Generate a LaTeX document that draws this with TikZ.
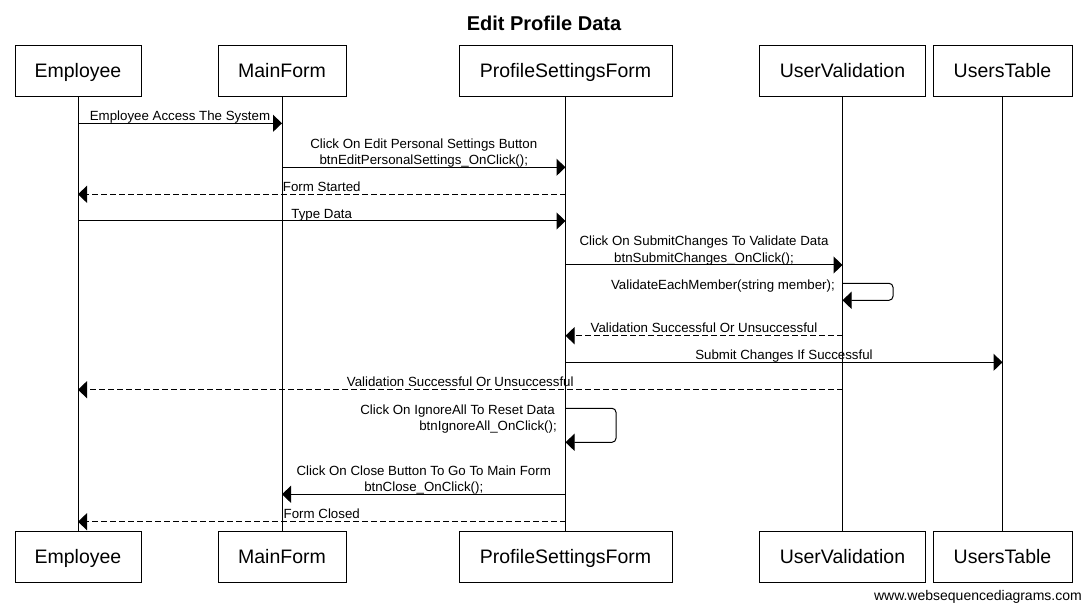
\documentclass[tikz,border=0pt]{standalone}
\usepackage{fontspec}
\setmainfont{Liberation Sans}
\usetikzlibrary{arrows.meta,calc}
\begin{document}
\begin{tikzpicture}[x=1pt,y=-1pt,
  actor/.style={draw,line width=1pt,minimum height=51pt,inner sep=0pt,text height=14pt,text depth=1pt,font=\fontsize{19.5}{22}\selectfont},
  life/.style={line width=1pt},
  msg/.style={line width=1pt,-{Triangle[length=9pt,width=17pt]}},
  ret/.style={msg,dash pattern=on 6pt off 3pt},
  lbl/.style={font=\fontsize{13.3}{15}\selectfont,inner sep=0pt,anchor=base},
  up1/.style={lbl,yshift=2.8pt},
  up2/.style={lbl,yshift=19.2pt}]
\useasboundingbox (0,0) rectangle (1085,604);
% title
\node[anchor=base,inner sep=0pt,font=\bfseries\fontsize{20}{24}\selectfont] (title) at (544,31) {Edit Profile Data};
% top actors
\node[actor,minimum width=126pt] (empT) at (78,71.5) {Employee};
\node[actor,minimum width=128pt] (mainT) at (282,71.5) {MainForm};
\node[actor,minimum width=213pt] (psfT) at (565.5,71.5) {ProfileSettingsForm};
\node[actor,minimum width=166pt] (uvT) at (842.5,71.5) {UserValidation};
\node[actor,minimum width=139pt] (utT) at (1002.5,71.5) {UsersTable};
% bottom actors
\node[actor,minimum width=126pt] (empB) at (78,556.5) {Employee};
\node[actor,minimum width=128pt] (mainB) at (282,556.5) {MainForm};
\node[actor,minimum width=213pt] (psfB) at (565.5,556.5) {ProfileSettingsForm};
\node[actor,minimum width=166pt] (uvB) at (842.5,556.5) {UserValidation};
\node[actor,minimum width=139pt] (utB) at (1002.5,556.5) {UsersTable};
% lifelines
\draw[life] (empT) -- (empB);
\draw[life] (mainT) -- (mainB);
\draw[life] (psfT) -- (psfB);
\draw[life] (uvT) -- (uvB);
\draw[life] (utT) -- (utB);
% 1
\draw[msg] (empT |- 0,123.3) -- node[up1]{Employee Access The System} (mainT |- 0,123.3);
% 2
\draw[msg] (mainT |- 0,167.3) -- node[up1]{btnEditPersonalSettings\_OnClick();} node[up2]{Click On Edit Personal Settings Button} (psfT |- 0,167.3);
% 3
\draw[ret] (psfT |- 0,194.3) -- node[up1]{Form Started} (empT |- 0,194.3);
% 4
\draw[msg] (empT |- 0,221) -- node[up1]{Type Data} (psfT |- 0,221);
% 5
\draw[msg] (psfT |- 0,265) -- node[up1]{btnSubmitChanges\_OnClick();} node[up2]{Click On SubmitChanges To Validate Data} (uvT |- 0,265);
% 6 self
\draw[msg,rounded corners=4pt] (uvT |- 0,283.3) -- ++(50.5,0) -- ++(0,17) -- (uvT |- 0,300.3);
\node[lbl,anchor=base east] (selfA) at (835,289.5) {ValidateEachMember(string member);};
% 7
\draw[ret] (uvT |- 0,335.7) -- node[up1]{Validation Successful Or Unsuccessful} (psfT |- 0,335.7);
% 8
\draw[msg] (psfT |- 0,362.3) -- node[up1]{Submit Changes If Successful} (utT |- 0,362.3);
% 9
\draw[ret] (uvT |- 0,389.7) -- node[up1]{Validation Successful Or Unsuccessful} (empT |- 0,389.7);
% 10 self
\draw[msg,rounded corners=4pt] (psfT |- 0,408.3) -- ++(50.5,0) -- ++(0,34) -- (psfT |- 0,442.3);
\node[lbl,anchor=base east] (selfB1) at (555,414) {Click On IgnoreAll To Reset Data};
\node[lbl,anchor=base east] (selfB2) at (557,430.5) {btnIgnoreAll\_OnClick();};
% 11
\draw[msg] (psfT |- 0,494.3) -- node[up1]{btnClose\_OnClick();} node[up2]{Click On Close Button To Go To Main Form} (mainT |- 0,494.3);
% 12
\draw[ret] (psfT |- 0,521.7) -- node[up1]{Form Closed} (empT |- 0,521.7);
% watermark
\node[anchor=base east,inner sep=0pt,font=\fontsize{14}{16}\selectfont] (wm) at (1082,600) {www.websequencediagrams.com};
\end{tikzpicture}
\end{document}
